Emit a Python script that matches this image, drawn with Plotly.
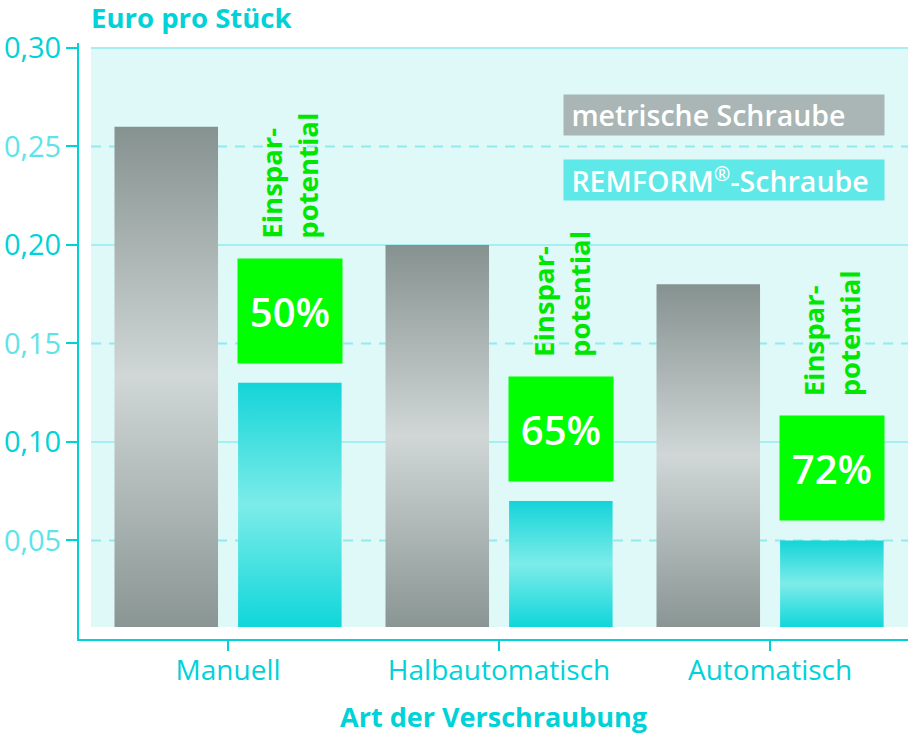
import plotly.graph_objects as go

# data
categories = ["Manuell", "Halbautomatisch", "Automatisch"]
series_names = ["metrische Schraube", "REMFORM<sup>®</sup>-Schraube"]
metric_cost = [0.26, 0.20, 0.18]
remform_cost = [0.13, 0.07, 0.05]
savings = ["50%", "65%", "72%"]
savings_label = "Einspar-<br>potential"
y_ticks = [0.05, 0.10, 0.15, 0.20, 0.25, 0.30]
y_tick_labels = ["0,05", "0,10", "0,15", "0,20", "0,25", "0,30"]

CYAN = "#00d2d8"
CYAN_LIGHT = "#5ee4e8"
GREEN = "#00ff00"
FONT = "Open Sans"

BAR_W = 0.382
OFFSET = 0.228
FLOOR = 0.0061  # bars and panel stop a little above the axis line

GRAY_SCALE = [[0, "#8a9694"], [0.5, "#d0d7d6"], [1, "#869290"]]
CYAN_SCALE = [[0, "#10d6da"], [0.5, "#7cece9"], [1, "#14d4d8"]]


def bar_trace(x_center, value, scale):
    """One gradient filled bar, drawn in data coordinates."""
    x0, x1 = x_center - BAR_W / 2, x_center + BAR_W / 2
    return go.Scatter(x=[x0, x1, x1, x0, x0],
                      y=[FLOOR, FLOOR, value, value, FLOOR],
                      mode="lines", fill="toself", line=dict(width=0),
                      fillgradient=dict(type="vertical", colorscale=scale),
                      hoverinfo="skip", showlegend=False)


fig = go.Figure()
for i, cat in enumerate(categories):
    fig.add_trace(bar_trace(i - OFFSET, metric_cost[i], GRAY_SCALE))
    fig.add_trace(bar_trace(i + OFFSET, remform_cost[i], CYAN_SCALE))

# light panel behind the bars plus grid lines
shapes = [dict(type="rect", xref="x", yref="y", x0=-0.5055, x1=2.52,
               y0=FLOOR, y1=0.30, fillcolor="#dff8f8", line_width=0, layer="below")]
for k, v in enumerate(y_ticks):
    major = k % 2 == 1
    shapes.append(dict(type="line", xref="x", yref="y", x0=-0.5055, x1=2.52, y0=v, y1=v,
                       line=dict(color="#a6eef0" if major else "#92e9ee", width=2,
                                 dash="solid" if major else "10px,8px"),
                       layer="below"))

tick_text = []
for k, lab in enumerate(y_tick_labels):
    col = CYAN if k % 2 == 1 else CYAN_LIGHT
    tick_text.append('<span style="color:%s">%s</span>' % (col, lab))

annotations = []
for i in range(len(categories)):
    xc = i + OFFSET
    annotations.append(dict(x=xc, y=remform_cost[i], xref="x", yref="y",
                            text=savings[i], showarrow=False, yanchor="bottom",
                            yshift=19, width=104, height=104, bgcolor=GREEN,
                            borderpad=0, valign="middle",
                            font=dict(family=FONT, size=40, color="white", weight=600)))
    annotations.append(dict(x=xc, y=remform_cost[i], xref="x", yref="y",
                            text=savings_label, showarrow=False, yanchor="bottom",
                            yshift=142, textangle=-90, align="left",
                            font=dict(family=FONT, size=27.5, color="#00e600", weight=700)))

# legend boxes
legend_colors = ["#a9b6b5", "#5ee8e8"]
legend_top = [94, 159]
for name, col, top in zip(series_names, legend_colors, legend_top):
    annotations.append(dict(x=(563 - 79) / 829, y=(639 - top) / 596, xref="paper", yref="paper",
                            xanchor="left", yanchor="top", text="&nbsp;" + name,
                            showarrow=False, width=320, height=40, align="left",
                            bgcolor=col, borderpad=0,
                            font=dict(family=FONT, size=28.5, color="white", weight=600)))

annotations.append(dict(x=(90 - 79) / 829, y=(639 - 17.5) / 596, xref="paper", yref="paper",
                        xanchor="left", yanchor="middle", text="<b>Euro pro Stück</b>",
                        showarrow=False, borderpad=0,
                        font=dict(family=FONT, size=27.5, color=CYAN)))

fig.update_layout(
    width=908, height=735,
    margin=dict(l=79, r=0, t=43, b=96),
    paper_bgcolor="white", plot_bgcolor="white",
    font=dict(family=FONT, color=CYAN),
    showlegend=False,
    shapes=shapes,
    annotations=annotations,
)
fig.update_xaxes(range=[-0.55, 2.509], tickvals=list(range(len(categories))),
                 ticktext=categories, ticks="outside", ticklen=10, tickwidth=2,
                 tickcolor=CYAN, showline=True, linecolor=CYAN, linewidth=2,
                 showgrid=False, zeroline=False, automargin=False, ticklabelstandoff=-5,
                 tickfont=dict(family=FONT, size=28, color=CYAN),
                 title=dict(text="<b>Art der Verschraubung</b>", standoff=24,
                            font=dict(family=FONT, size=27, color=CYAN)))
fig.update_yaxes(range=[0, 0.3025], tickvals=y_ticks, ticktext=tick_text,
                 ticks="outside", ticklen=11, tickwidth=2, tickcolor=CYAN,
                 showline=True, linecolor=CYAN, linewidth=2, automargin=False,
                 showgrid=False, zeroline=False, ticklabelstandoff=-1,
                 tickfont=dict(family=FONT, size=29, color=CYAN))

# drop the default page margin so the figure fills the window exactly
fig.write_html("out.html", config={"displayModeBar": False},
               post_script="document.body.style.margin = '0';")
